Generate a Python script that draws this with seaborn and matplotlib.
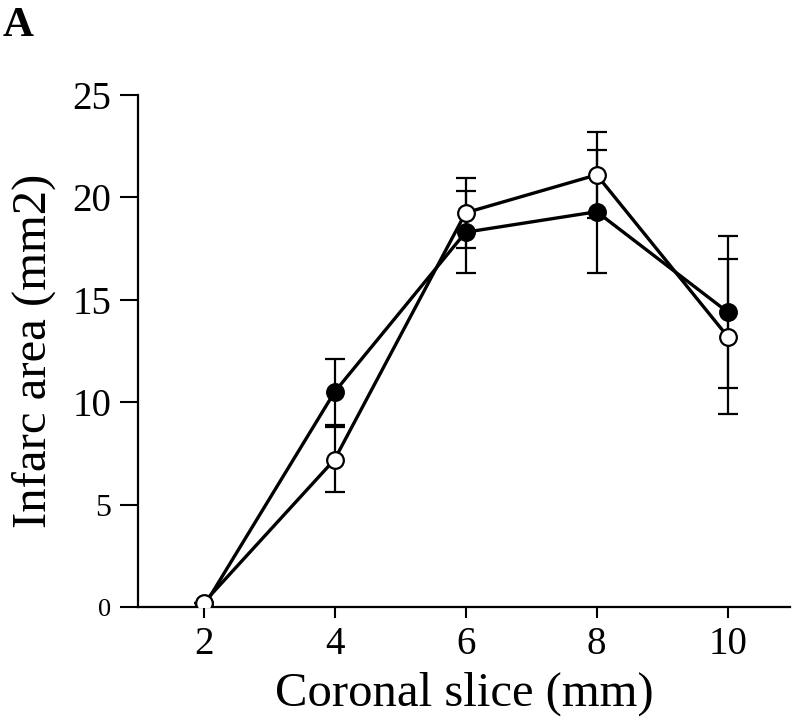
import matplotlib

matplotlib.use("Agg")
import matplotlib.pyplot as plt
import pandas as pd
import seaborn as sns

# values
slices = [2, 4, 6, 8, 10]
filled_mean = [0.0, 10.5, 18.3, 19.3, 14.4]
filled_sd = [0.0, 1.6, 2.0, 3.0, 3.7]
open_mean = [0.2, 7.2, 19.25, 21.1, 13.2]
open_sd = [0.0, 1.6, 1.7, 2.1, 3.8]

y_ticks = [0, 5, 10, 15, 20, 25]
y_tick_sizes = [19, 23, 28, 28, 28, 28]

sns.set_style("ticks")
plt.rcParams["font.family"] = ["Liberation Serif", "DejaVu Serif"]
plt.rcParams["text.color"] = "black"
plt.rcParams["axes.labelcolor"] = "black"
plt.rcParams["xtick.color"] = "black"
plt.rcParams["ytick.color"] = "black"

df = pd.DataFrame({
    "slice": slices * 2,
    "area": filled_mean + open_mean,
    "group": ["filled"] * len(slices) + ["open"] * len(slices),
})

fig = plt.figure(figsize=(8, 7.24), dpi=100)
ax = fig.add_axes([0.1725, 0.1616, 0.815, 0.7072])

# error bars behind the markers
ax.errorbar(slices, filled_mean, yerr=filled_sd, fmt="none", ecolor="black",
            elinewidth=1.6, capsize=7, capthick=1.6, zorder=1)
ax.errorbar(slices, open_mean, yerr=open_sd, fmt="none", ecolor="black",
            elinewidth=1.6, capsize=7, capthick=1.6, zorder=1)

sns.lineplot(data=df[df["group"] == "filled"], x="slice", y="area", ax=ax,
             color="black", linewidth=2.4, marker="o", markersize=12,
             markerfacecolor="black", markeredgecolor="black",
             markeredgewidth=1.6, zorder=3)
sns.lineplot(data=df[df["group"] == "open"], x="slice", y="area", ax=ax,
             color="black", linewidth=2.4, marker="o", markersize=12,
             markerfacecolor="white", markeredgecolor="black",
             markeredgewidth=1.6, zorder=4)

ax.set_xlim(1.0, 10.95)
ax.set_ylim(0, 25)
ax.set_xticks(slices)
ax.set_xticklabels([str(s) for s in slices], fontsize=28)
ax.set_yticks(y_ticks)
ax.set_yticklabels([str(t) for t in y_ticks])
for lab, size in zip(ax.get_yticklabels(), y_tick_sizes):
    lab.set_fontsize(size)

ax.tick_params(axis="y", direction="out", length=13, width=1.5, pad=6)
ax.tick_params(axis="x", direction="out", length=8, width=1.5, pad=6)
for side in ["top", "right"]:
    ax.spines[side].set_visible(False)
for side in ["left", "bottom"]:
    ax.spines[side].set_linewidth(1.6)
    ax.spines[side].set_color("black")

ax.set_xlabel("Coronal slice (mm)", fontsize=35, labelpad=6)
ax.set_ylabel("Infarc area (mm2)", fontsize=35, labelpad=12)
ax.grid(False)

fig.text(0.003, 0.99, "A", fontsize=31, fontweight="bold", va="top", ha="left")

fig.savefig("out.png", dpi=100)
plt.close(fig)
